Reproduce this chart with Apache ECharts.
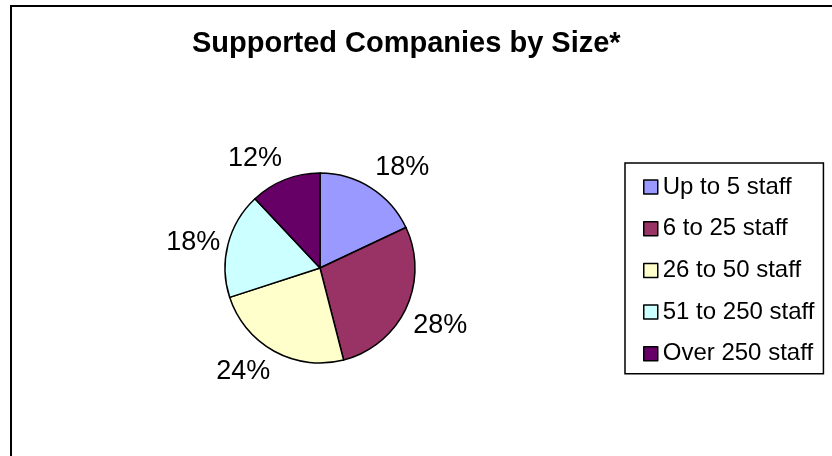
<!DOCTYPE html>
<html>
<head>
<meta charset="utf-8">
<script src="https://cdn.jsdelivr.net/npm/echarts@6/dist/echarts.min.js"></script>
<style>
html,body{margin:0;padding:0;background:#fff;}
#chart{width:832px;height:456px;}
</style>
</head>
<body>
<div id="chart"></div>
<script>
var titleText = 'Supported Companies by Size*';
var categories = ['Up to 5 staff', '6 to 25 staff', '26 to 50 staff', '51 to 250 staff', 'Over 250 staff'];
var values = [18, 28, 24, 18, 12];
var colors = ['#9999FF', '#993366', '#FFFFCC', '#CCFFFF', '#660066'];

var FONT = '"Liberation Sans", Arial, sans-serif';
var total = values.reduce(function (a, b) { return a + b; }, 0);
var midCos = [];
(function () {
  var acc = 0;
  for (var i = 0; i < values.length; i++) {
    var mid = (acc + values[i] / 2) / total * 2 * Math.PI;
    midCos.push(Math.cos(mid));
    acc += values[i];
  }
})();

var chart = echarts.init(document.getElementById('chart'), null, {renderer: 'canvas'});
chart.setOption({
  backgroundColor: '#ffffff',
  animation: false,
  color: colors,
  graphic: [{
    type: 'rect',
    shape: {x: 11, y: 6, width: 900, height: 500},
    style: {fill: 'none', stroke: '#000', lineWidth: 2},
    silent: true
  }],
  title: {
    text: titleText,
    left: 192,
    top: 29,
    padding: 0,
    textStyle: {fontFamily: FONT, fontSize: 29, fontWeight: 'bold', color: '#000'}
  },
  legend: {
    orient: 'vertical',
    left: 625,
    top: 163,
    padding: [12, 9, 8, 18],
    itemWidth: 14,
    itemHeight: 14,
    itemGap: 17.7,
    itemTextGap: 9,
    icon: 'rect',
    borderColor: '#000',
    borderWidth: 1.5,
    itemStyle: {borderColor: '#000', borderWidth: 1.5},
    textStyle: {fontFamily: FONT, fontSize: 24, lineHeight: 24, color: '#000'},
    data: categories
  },
  series: [{
    type: 'pie',
    center: [320, 268],
    radius: 95,
    startAngle: 90,
    clockwise: true,
    avoidLabelOverlap: false,
    itemStyle: {borderColor: '#000', borderWidth: 1.5},
    emphasis: {disabled: true},
    label: {
      show: true,
      position: 'outside',
      formatter: function (p) { return Math.round(p.percent) + '%'; },
      fontFamily: FONT,
      fontSize: 27,
      color: '#000',
      distanceToLabelLine: 0
    },
    labelLine: {show: false, length: 8, length2: 0},
    labelLayout: function (params) {
      var c = midCos[params.dataIndex];
      var h = params.labelRect.height;
      var dy = Math.abs(c) > 0.35 ? -Math.sign(c) * 0.5 * h : 0;
      return {dy: dy};
    },
    data: categories.map(function (name, i) {
      return {name: name, value: values[i]};
    })
  }]
});
</script>
</body>
</html>
